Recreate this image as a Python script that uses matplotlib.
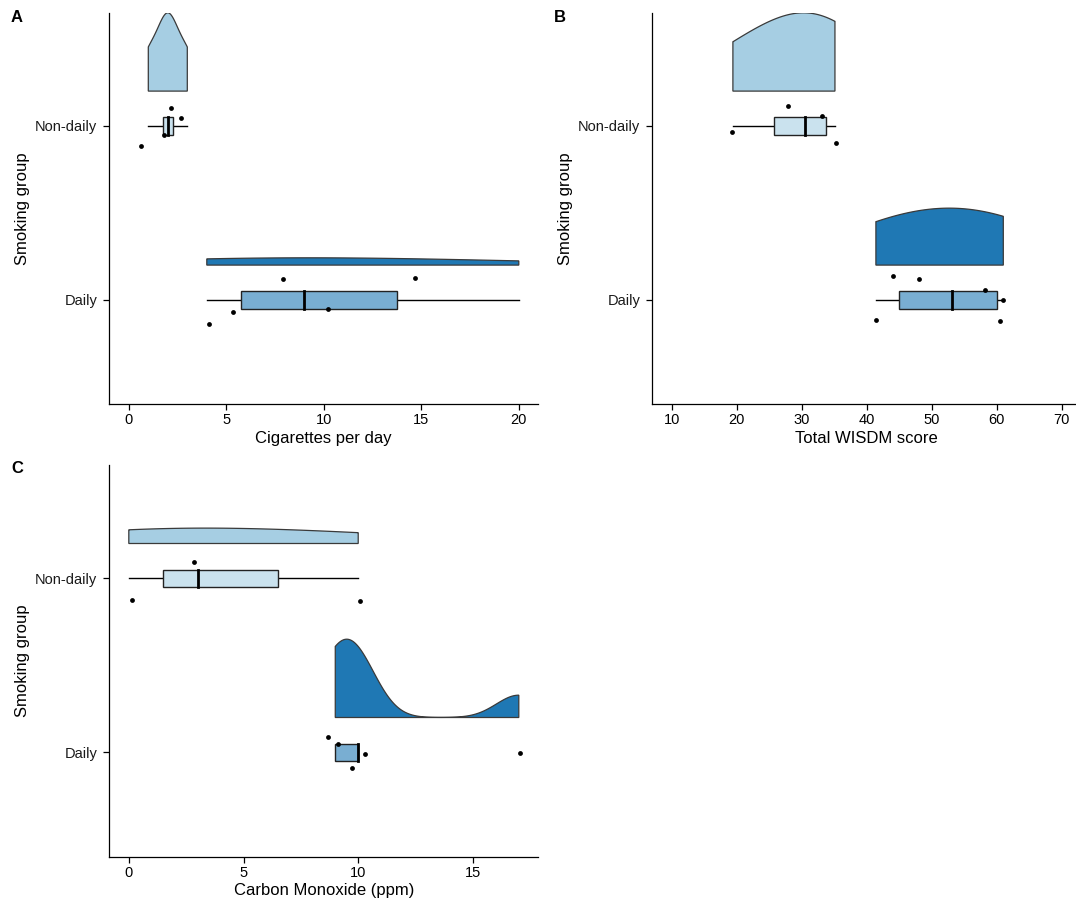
import numpy as np
import matplotlib.pyplot as plt

plt.rcParams['font.family'] = ['Liberation Sans', 'DejaVu Sans']

groups = ["Daily", "Non-daily"]          # y positions 1 and 2
fills = {"Non-daily": "#A6CEE3", "Daily": "#1F78B4"}

# cigarettes per day
cig_nondaily = [1, 2, 2, 3]
cig_daily = [4, 5, 8, 10, 15, 20]
# total WISDM score
wisdm_nondaily = [19.4, 27.8, 33.2, 35.1]
wisdm_daily = [41.4, 44.0, 48.1, 58.2, 60.6, 61.0]
# carbon monoxide (ppm)
co_nondaily = [0, 3, 10]
co_daily = [9, 9, 10, 10, 17]

# jitter applied to the raw points (x offset, y offset), same order as data
cig_nondaily_jit = [(-0.35, -0.115), (0.16, 0.10), (-0.19, -0.05), (-0.30, 0.048)]
cig_daily_jit = [(0.13, -0.14), (0.36, -0.069), (-0.10, 0.119), (0.20, -0.052),
                 (-0.30, 0.125), (np.nan, np.nan)]   # last point not shown
wisdm_nondaily_jit = [(-0.2, -0.033), (0.05, 0.117), (-0.1, 0.059), (0.1, -0.10)]
wisdm_daily_jit = [(-0.05, -0.117), (0.05, 0.136), (0.0, 0.119), (-0.05, 0.056),
                   (-0.1, -0.119), (0.0, 0.0)]
co_nondaily_jit = [(0.13, -0.122), (-0.14, 0.092), (0.07, -0.132)]
co_daily_jit = [(-0.30, 0.088), (0.10, 0.05), (0.30, -0.011), (-0.25, -0.092),
                (0.05, -0.006)]


def lighten(hexcol, alpha):
    c = np.array([int(hexcol[i:i + 2], 16) for i in (1, 3, 5)]) / 255
    return tuple(alpha * c + (1 - alpha))


def kde(vals, adjust=2.0):
    v = np.asarray(vals, float)
    q1, q3 = np.percentile(v, [25, 75])
    bw = 0.9 * min(v.std(ddof=1), (q3 - q1) / 1.34) * len(v) ** -0.2 * adjust
    grid = np.linspace(v.min(), v.max(), 512)
    d = np.exp(-0.5 * ((grid[:, None] - v[None, :]) / bw) ** 2).sum(1)
    d /= len(v) * bw * np.sqrt(2 * np.pi)
    return grid, d


def raincloud(ax, data, jitters, xlim, ticks, xlabel):
    dens = {g: kde(data[g]) for g in groups}
    dmax = max(d.max() for _, d in dens.values())
    for i, g in enumerate(groups):
        ypos = i + 1
        # half violin above the category
        grid, d = dens[g]
        base = ypos + 0.2
        top = base + d / dmax * 0.45
        xs = np.concatenate([[grid[0]], grid, [grid[-1]]])
        ys = np.concatenate([[base], top, [base]])
        ax.fill(xs, ys, facecolor=fills[g], edgecolor="#3a3a3a", lw=0.9, zorder=2)

        # boxplot
        v = np.asarray(data[g], float)
        q1, med, q3 = np.percentile(v, [25, 50, 75])
        iqr = q3 - q1
        lo = v[v >= q1 - 1.5 * iqr].min()
        hi = v[v <= q3 + 1.5 * iqr].max()
        h = 0.05
        ax.plot([lo, q1], [ypos, ypos], color="black", lw=1.0, zorder=3)
        ax.plot([q3, hi], [ypos, ypos], color="black", lw=1.0, zorder=3)
        ax.add_patch(plt.Rectangle((q1, ypos - h), q3 - q1, 2 * h,
                                   facecolor=lighten(fills[g], 0.6),
                                   edgecolor="#222222", lw=1.0, zorder=3))
        ax.plot([med, med], [ypos - h, ypos + h], color="black", lw=2.0, zorder=4)

        # raw points
        jx = np.array([j[0] for j in jitters[g]])
        jy = np.array([j[1] for j in jitters[g]])
        ax.scatter(v + jx, ypos + jy, s=12, color="black", zorder=5, lw=0)

    ax.set_xlim(*xlim)
    ax.set_ylim(0.4, 2.65)
    ax.set_xticks(ticks)
    ax.set_yticks([1, 2])
    ax.set_yticklabels(groups)
    ax.set_xlabel(xlabel, fontsize=12)
    ax.set_ylabel("Smoking group", fontsize=12)
    ax.xaxis.set_label_coords(0.5, -0.068)
    ax.yaxis.set_label_coords(-0.186, 0.5)
    for s in ("top", "right"):
        ax.spines[s].set_visible(False)
    for s in ("left", "bottom"):
        ax.spines[s].set_linewidth(0.9)
    ax.tick_params(direction="out", length=4, width=0.9, labelsize=10.5,
                   colors="black", pad=2.5)
    ax.tick_params(axis="y", labelcolor="#1a1a1a", pad=4.5)


fig = plt.figure(figsize=(10.76, 9.02), dpi=100)
W, H = 1076, 902
aw, ah = 429 / W, 391.5 / H

ax_a = fig.add_axes([109.3 / W, (H - 404.3) / H, aw, ah])
ax_b = fig.add_axes([652.3 / W, (H - 404.3) / H, aw, ah])
ax_c = fig.add_axes([109.3 / W, (H - 856.7) / H, aw, ah])

raincloud(ax_a, {"Non-daily": cig_nondaily, "Daily": cig_daily},
          {"Non-daily": cig_nondaily_jit, "Daily": cig_daily_jit},
          (-1, 21), [0, 5, 10, 15, 20], "Cigarettes per day")
raincloud(ax_b, {"Non-daily": wisdm_nondaily, "Daily": wisdm_daily},
          {"Non-daily": wisdm_nondaily_jit, "Daily": wisdm_daily_jit},
          (7, 73), [10, 20, 30, 40, 50, 60, 70], "Total WISDM score")
raincloud(ax_c, {"Non-daily": co_nondaily, "Daily": co_daily},
          {"Non-daily": co_nondaily_jit, "Daily": co_daily_jit},
          (-0.85, 17.85), [0, 5, 10, 15], "Carbon Monoxide (ppm)")

for lab, x, y in (("A", 11, 17), ("B", 554, 17), ("C", 11, 469)):
    fig.text(x / W, 1 - y / H, lab, fontsize=12, fontweight="bold",
             ha="left", va="center")

fig.savefig("out.png", dpi=100)
